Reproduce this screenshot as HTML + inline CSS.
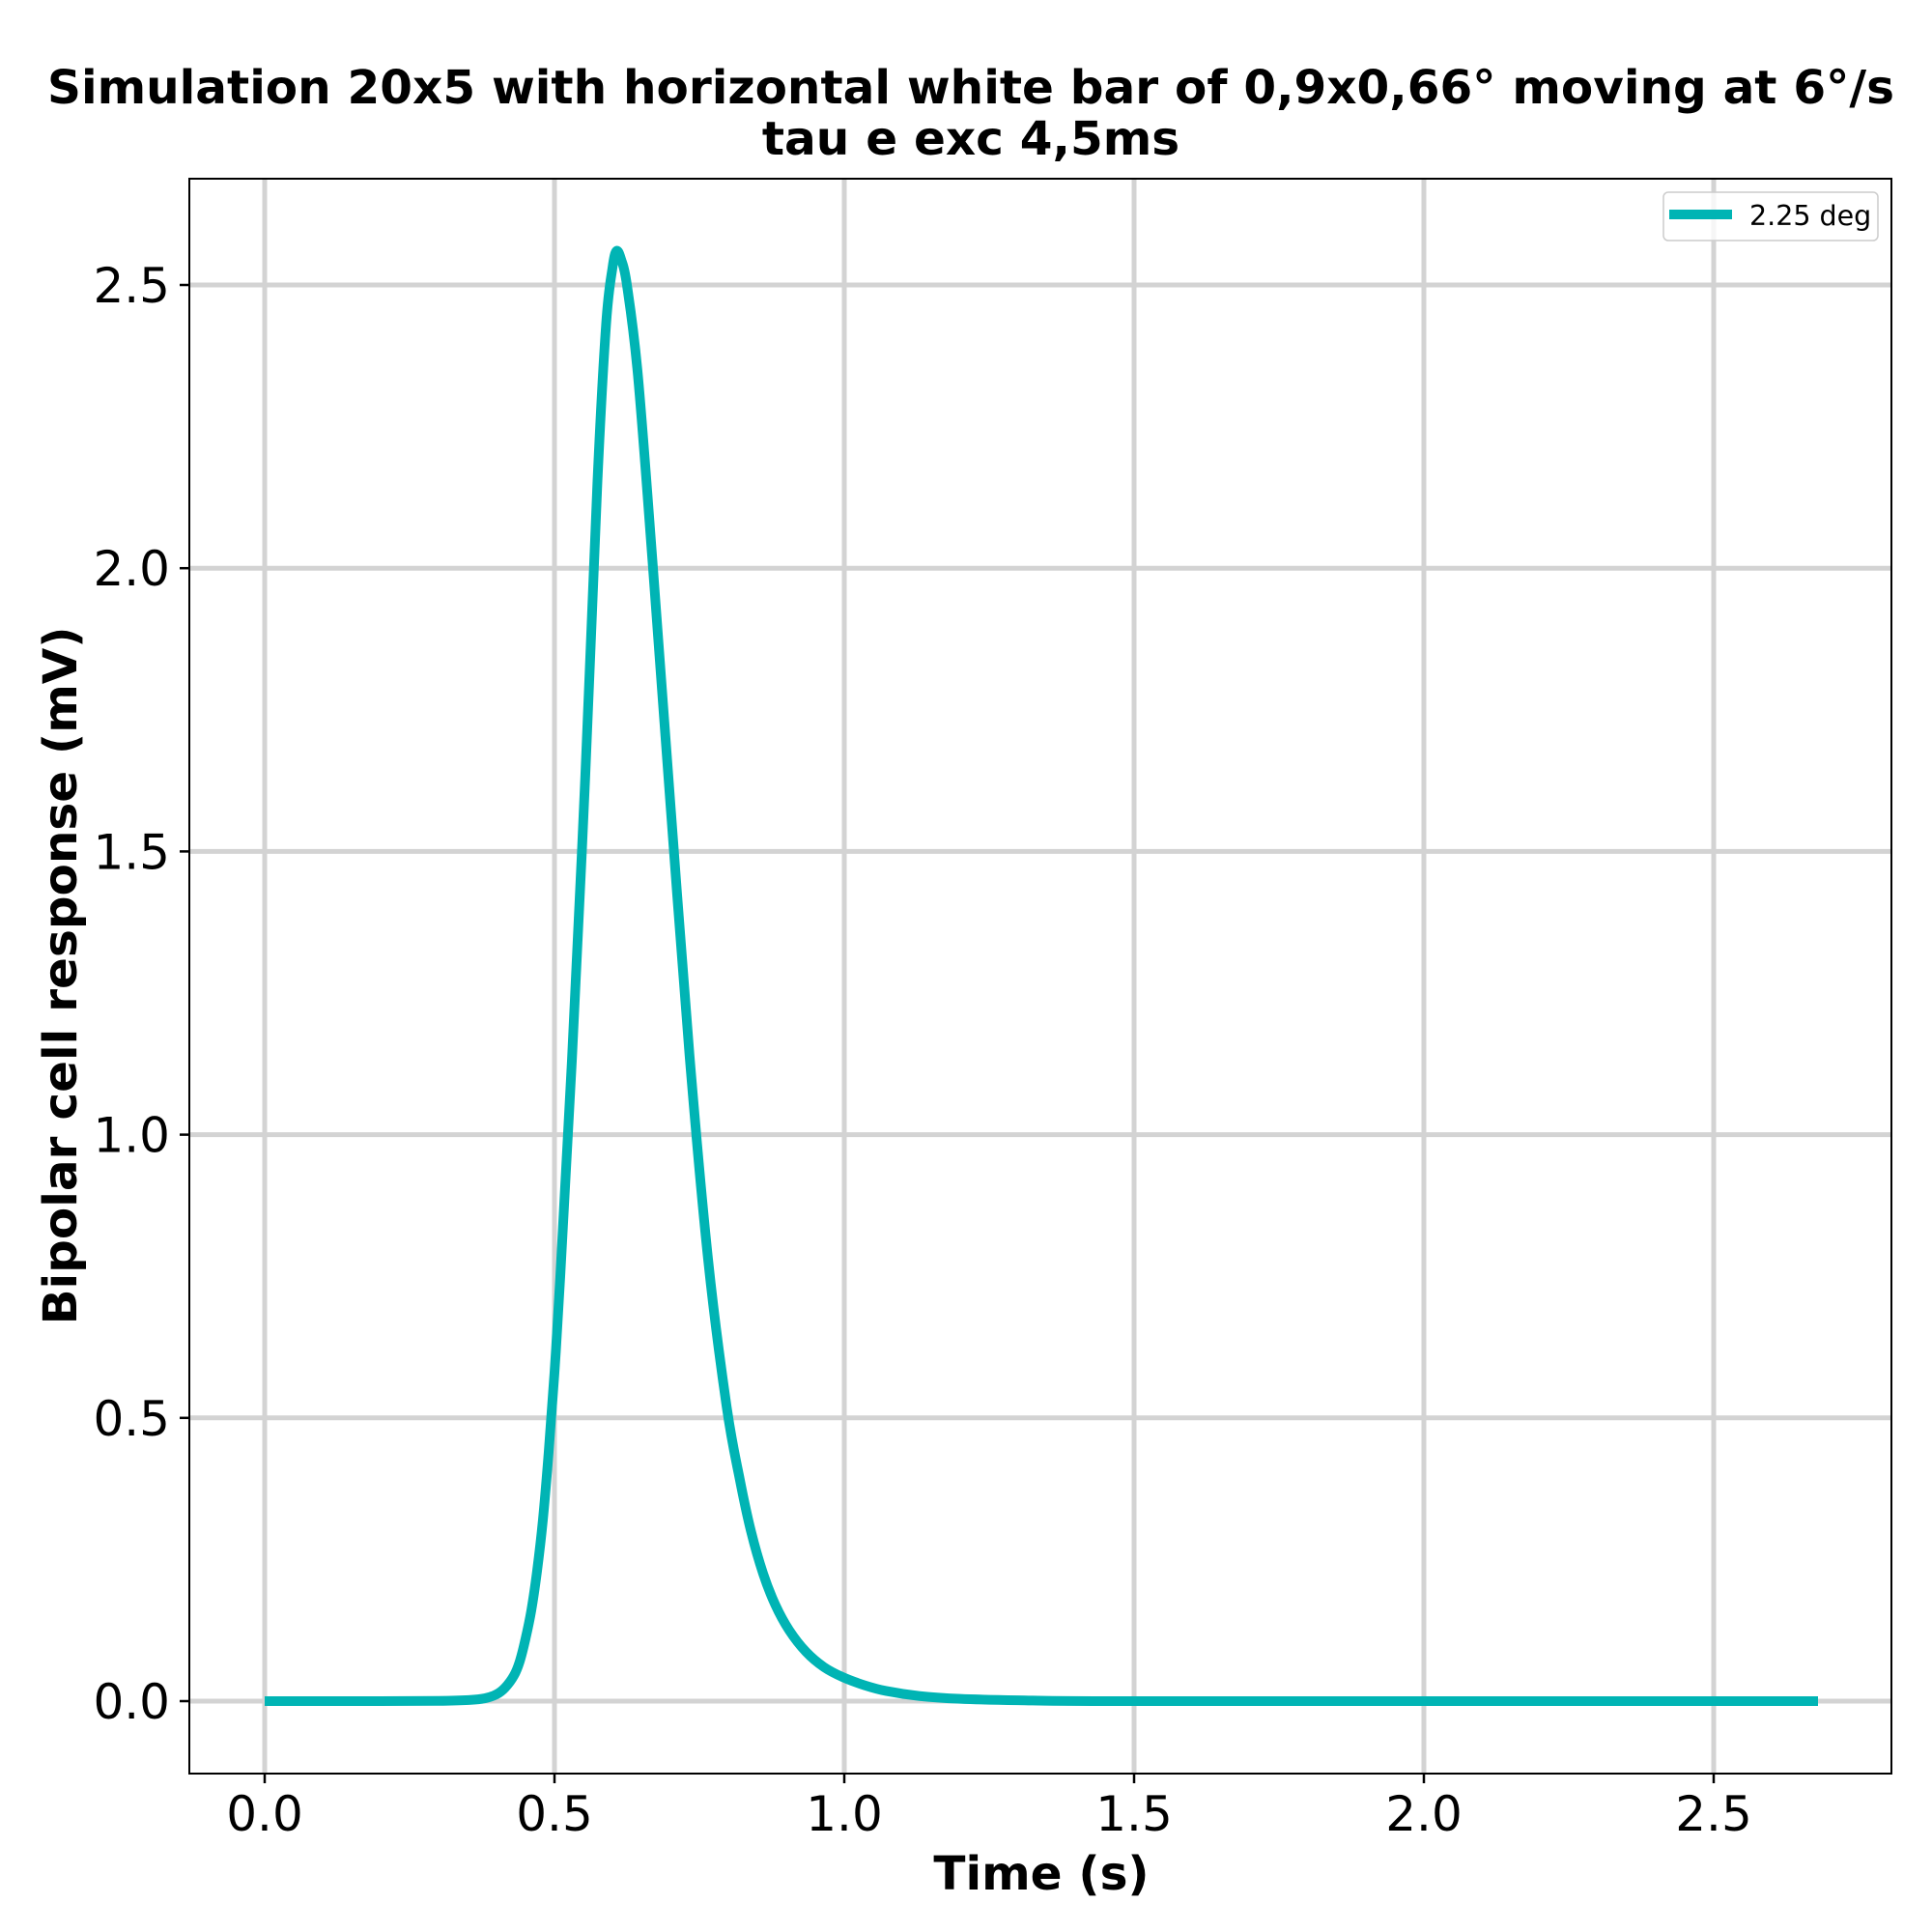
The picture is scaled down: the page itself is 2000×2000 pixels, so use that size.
<!DOCTYPE html>
<html><head><meta charset="utf-8"><style>
html,body{margin:0;padding:0;background:#fff;}
svg{display:block;font-family:"DejaVu Sans","Liberation Sans",sans-serif;}
</style></head><body>
<svg id="chart" width="2000" height="2000" viewBox="0 0 2000 2000">
<g>
<text x="1005" y="107" text-anchor="middle" font-size="48.5" font-weight="bold">Simulation 20x5 with horizontal white bar of 0,9x0,66° moving at 6°/s</text>
<text x="1005" y="160" text-anchor="middle" font-size="48.5" font-weight="bold">tau e exc 4,5ms</text>
</g>
<g id="grid"></g>
<g id="ticks"></g>
<g id="series"></g>
<rect x="196" y="185" width="1762" height="1651" fill="none" stroke="#000" stroke-width="2"/>
<text x="1078" y="1956" text-anchor="middle" font-size="48.5" font-weight="bold">Time (s)</text>
<text transform="translate(79,1010) rotate(-90)" text-anchor="middle" font-size="48.5" font-weight="bold">Bipolar cell response (mV)</text>
<g>
<rect x="1722" y="199" width="222" height="50" rx="5" fill="#fff" fill-opacity="0.8" stroke="#ccc" stroke-width="1.5"/>
<line x1="1728" y1="222" x2="1793" y2="222" stroke="#00b4b4" stroke-width="10"/>
<text x="1811" y="233" font-size="28.5">2.25 deg</text>
</g>
</svg>
<script>
const xTicks=[0,0.5,1.0,1.5,2.0,2.5];
const xTickLabels=["0.0","0.5","1.0","1.5","2.0","2.5"];
const yTicks=[0,0.5,1.0,1.5,2.0,2.5];
const yTickLabels=["0.0","0.5","1.0","1.5","2.0","2.5"];
const times=[0,0.2,0.3,0.352,0.38,0.4,0.415,0.43,0.44,0.45,0.46,0.47,0.48,0.49,0.5,0.51,0.53,0.553,0.574,0.589,0.6,0.607,0.615,0.625,0.644,0.67,0.701,0.733,0.765,0.797,0.82,0.839,0.86,0.881,0.905,0.934,0.965,0.998,1.035,1.072,1.13,1.2,1.3,1.45,2.0,2.68];
const response=[0,0,0.0005,0.002,0.005,0.012,0.024,0.045,0.07,0.11,0.16,0.23,0.32,0.44,0.58,0.75,1.13,1.63,2.15,2.43,2.53,2.56,2.545,2.5,2.34,2.0,1.57,1.14,0.78,0.52,0.39,0.30,0.225,0.17,0.125,0.087,0.06,0.042,0.028,0.018,0.009,0.004,0.0015,0,0,0];
const NS="http://www.w3.org/2000/svg";
function xs(t){return 274+t*600;}
function ys(v){return 1761-v*586.4;}
const grid=document.getElementById('grid'),ticks=document.getElementById('ticks'),series=document.getElementById('series');
function mk(tag,attrs,parent){const e=document.createElementNS(NS,tag);for(const k in attrs)e.setAttribute(k,attrs[k]);parent.appendChild(e);return e;}
xTicks.forEach((t,i)=>{
 const g=mk('line',{x1:xs(t),x2:xs(t),y1:185,y2:1836,stroke:'#d3d3d3','stroke-width':5},grid);
 
 
 const tk=mk('line',{x1:xs(t),x2:xs(t),y1:1836,y2:1846,stroke:'#000','stroke-width':2.5},ticks);
 
 
 const tx=mk('text',{x:xs(t),y:1895,'text-anchor':'middle','font-size':50},ticks);
 tx.textContent=xTickLabels[i];
 
 
});
yTicks.forEach((v,i)=>{
 const g=mk('line',{x1:196,x2:1958,y1:ys(v),y2:ys(v),stroke:'#d3d3d3','stroke-width':5},grid);
 
 
 const tk=mk('line',{x1:186,x2:196,y1:ys(v),y2:ys(v),stroke:'#000','stroke-width':2.5},ticks);
 
 
 const tx=mk('text',{x:176,y:ys(v)+18,'text-anchor':'end','font-size':50},ticks);
 tx.textContent=yTickLabels[i];
 
 
});
const P=times.map((t,i)=>[xs(t),ys(response[i])]);
let d='M'+P[0][0]+','+P[0][1];
for(let i=0;i<P.length-1;i++){
 const p0=P[Math.max(0,i-1)],p1=P[i],p2=P[i+1],p3=P[Math.min(P.length-1,i+2)];
 const c1=[p1[0]+(p2[0]-p0[0])/6,p1[1]+(p2[1]-p0[1])/6];
 const c2=[p2[0]-(p3[0]-p1[0])/6,p2[1]-(p3[1]-p1[1])/6];
 d+=`C${c1[0]},${c1[1]} ${c2[0]},${c2[1]} ${p2[0]},${p2[1]}`;
}
const line=mk('path',{d:d,fill:'none',stroke:'#00b4b4','stroke-width':10,'stroke-linejoin':'round'},series);


</script>
</body></html>
